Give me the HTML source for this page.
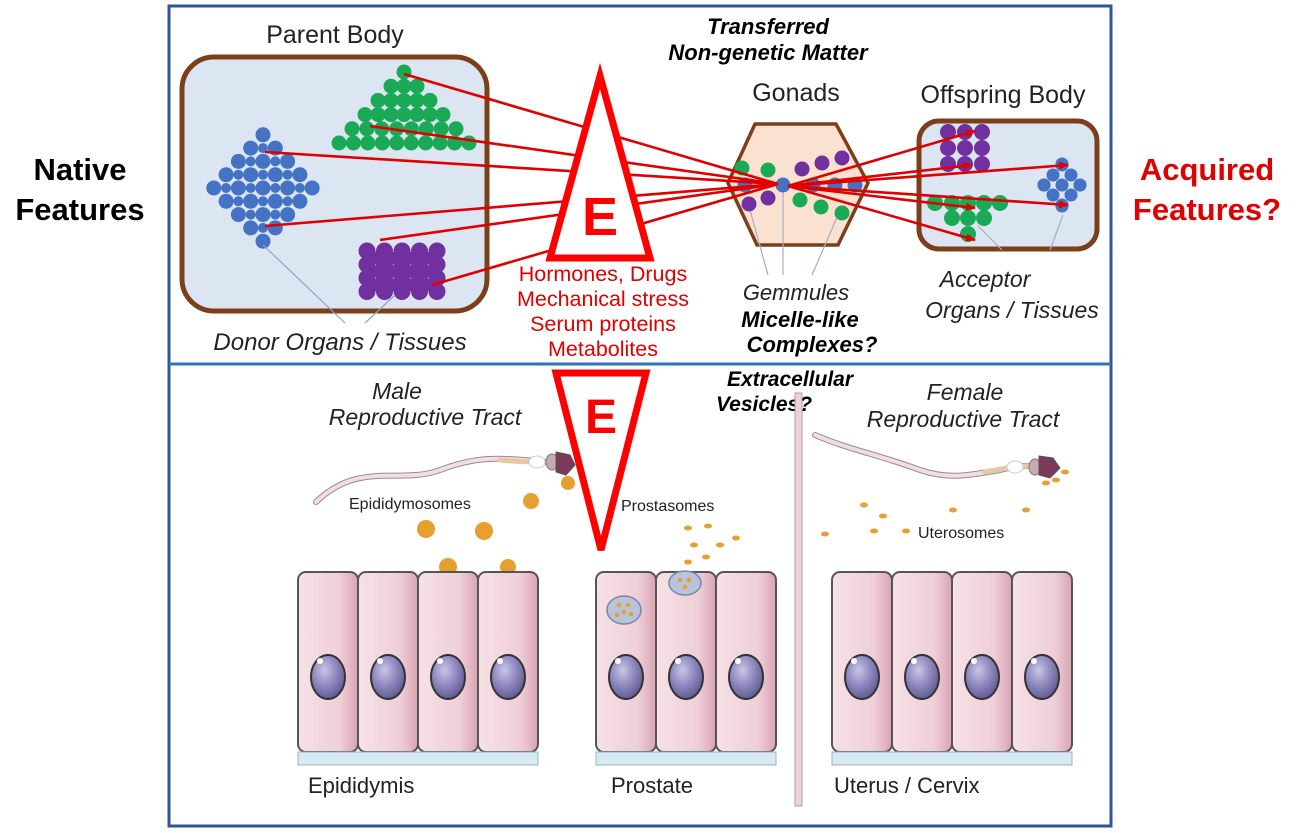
<!DOCTYPE html>
<html><head><meta charset="utf-8"><style>
html,body{margin:0;padding:0;background:#fff;}
svg{display:block;}
text{font-family:"Liberation Sans",Arial,sans-serif;}
</style></head><body>
<svg id="s" width="1301" height="833" viewBox="0 0 1301 833" xmlns="http://www.w3.org/2000/svg">
<defs>
<marker id="ah" markerWidth="10" markerHeight="8" refX="9" refY="4" orient="auto" markerUnits="userSpaceOnUse">
<path d="M0,0 L10,4 L0,8 z" fill="#e00000"/></marker>
<linearGradient id="cell" x1="0" x2="1"><stop offset="0" stop-color="#f6e2e6"/><stop offset="0.7" stop-color="#efcfd7"/><stop offset="1" stop-color="#d9a3b2"/></linearGradient>
<radialGradient id="nuc" cx="0.4" cy="0.35" r="0.7"><stop offset="0" stop-color="#c9c5e6"/><stop offset="0.5" stop-color="#8f89bf"/><stop offset="1" stop-color="#5d5790"/></radialGradient>
</defs>
<rect x="169" y="6" width="942" height="820" fill="none" stroke="#2f5597" stroke-width="3"/>
<line x1="169" y1="364" x2="1111" y2="364" stroke="#2e75b6" stroke-width="3"/>

<text x="80" y="180" font-size="31" font-weight="bold" text-anchor="middle">Native</text>
<text x="80" y="220" font-size="31" font-weight="bold" text-anchor="middle">Features</text>
<text x="1207" y="180" font-size="31" font-weight="bold" fill="#e00000" text-anchor="middle">Acquired</text>
<text x="1207" y="220" font-size="31" font-weight="bold" fill="#e00000" text-anchor="middle">Features?</text>

<text x="335" y="43" font-size="25" text-anchor="middle" fill="#222">Parent Body</text>
<rect x="182" y="57" width="305" height="254" rx="32" fill="#dce6f2" stroke="#7b3f1a" stroke-width="5"/>
<g id="parent"></g>
<line x1="263" y1="245" x2="345" y2="323" stroke="#8ea3c4" stroke-width="1.2"/>
<line x1="395" y1="295" x2="365" y2="323" stroke="#8ea3c4" stroke-width="1.2"/>
<text x="340" y="350" font-size="24" font-style="italic" text-anchor="middle" fill="#222">Donor Organs / Tissues</text>

<text x="768" y="34" font-size="22" font-weight="bold" font-style="italic" text-anchor="middle">Transferred</text>
<text x="768" y="60" font-size="22" font-weight="bold" font-style="italic" text-anchor="middle">Non-genetic Matter</text>
<text x="796" y="101" font-size="25" text-anchor="middle" fill="#222">Gonads</text>
<polygon points="728,183 755,124 836,124 868,183 838,245 757,245" fill="#fbe1cf" stroke="#7b3f1a" stroke-width="3.5"/>
<line x1="750" y1="210" x2="768" y2="275" stroke="#9fb0c8" stroke-width="1.2"/>
<line x1="783" y1="190" x2="783" y2="275" stroke="#9fb0c8" stroke-width="1.2"/>
<line x1="838" y1="215" x2="812" y2="275" stroke="#9fb0c8" stroke-width="1.2"/>
<g id="gon"></g>
<text x="796" y="300" font-size="22" font-style="italic" text-anchor="middle" fill="#222">Gemmules</text>
<text x="800" y="327" font-size="22" font-weight="bold" font-style="italic" text-anchor="middle">Micelle-like</text>
<text x="812" y="352" font-size="22" font-weight="bold" font-style="italic" text-anchor="middle">Complexes?</text>

<text x="1003" y="103" font-size="25" text-anchor="middle" fill="#222">Offspring Body</text>
<rect x="919" y="121" width="178" height="128" rx="20" fill="#dce6f2" stroke="#7b3f1a" stroke-width="5"/>
<g id="off"></g>
<line x1="978" y1="226" x2="1002" y2="250" stroke="#9fb0c8" stroke-width="1.2"/>
<line x1="1063" y1="215" x2="1050" y2="250" stroke="#9fb0c8" stroke-width="1.2"/>
<text x="985" y="287" font-size="23" font-style="italic" text-anchor="middle" fill="#222">Acceptor</text>
<text x="1012" y="318" font-size="23" font-style="italic" text-anchor="middle" fill="#222">Organs / Tissues</text>

<g id="lines" stroke="#e00000" stroke-width="2.6" fill="none"></g>

<polygon points="600,76 550,258 650,258" fill="#fff" stroke="#ff0000" stroke-width="7" stroke-linejoin="miter"/>
<text x="600" y="235" font-size="54" font-weight="bold" fill="#ff0000" text-anchor="middle">E</text>
<g fill="#e00000" font-size="21.5" text-anchor="middle">
<text x="603" y="281">Hormones,  Drugs</text>
<text x="603" y="306">Mechanical  stress</text>
<text x="603" y="331">Serum proteins</text>
<text x="603" y="356">Metabolites</text>
</g>

<polygon points="556,373 646,373 601,550" fill="#fff" stroke="#ff0000" stroke-width="7"/>
<text x="601" y="433" font-size="48" font-weight="bold" fill="#ff0000" text-anchor="middle">E</text>

<text x="397" y="399" font-size="23" font-style="italic" text-anchor="middle" fill="#222">Male</text>
<text x="425" y="425" font-size="23" font-style="italic" text-anchor="middle" fill="#222">Reproductive Tract</text>
<text x="790" y="386" font-size="21" font-weight="bold" font-style="italic" text-anchor="middle">Extracellular</text>
<text x="764" y="411" font-size="21" font-weight="bold" font-style="italic" text-anchor="middle">Vesicles?</text>
<text x="965" y="400" font-size="23" font-style="italic" text-anchor="middle" fill="#222">Female</text>
<text x="963" y="427" font-size="23" font-style="italic" text-anchor="middle" fill="#222">Reproductive Tract</text>
<rect x="795" y="393" width="7" height="413" fill="#ecd3d8" stroke="#b89aa2" stroke-width="1"/>

<g fill="none" stroke-linecap="round">
<path d="M316,502 C360,460 400,485 440,470 C480,455 500,458 548,462" stroke="#9a8a8f" stroke-width="6"/>
<path d="M316,502 C360,460 400,485 440,470 C480,455 500,458 548,462" stroke="#f2dde0" stroke-width="4"/>
<path d="M500,460 C520,462 535,462 548,462" stroke="#e8c7a4" stroke-width="5"/>
<path d="M815,435 C850,450 880,455 920,470 C950,480 970,475 1000,470 C1015,466 1025,466 1035,466" stroke="#9a8a8f" stroke-width="6"/>
<path d="M815,435 C850,450 880,455 920,470 C950,480 970,475 1000,470 C1015,466 1025,466 1035,466" stroke="#f2dde0" stroke-width="4"/>
<path d="M985,472 C1005,468 1020,466 1035,466" stroke="#e8c7a4" stroke-width="5"/>
</g>
<ellipse cx="537" cy="462" rx="8" ry="6" fill="#fff" stroke="#ccc"/>
<ellipse cx="1015" cy="467" rx="8" ry="6" fill="#fff" stroke="#ccc"/>
<ellipse cx="552" cy="462" rx="6" ry="8" fill="#c7a9b7" stroke="#777"/>
<polygon points="556,452 570,455 575,465 566,475 556,472" fill="#7b3a58" stroke="#555"/>
<ellipse cx="1035" cy="467" rx="6" ry="8" fill="#c7a9b7" stroke="#777"/>
<polygon points="1039,456 1053,458 1060,468 1050,478 1039,475" fill="#7b3a58" stroke="#555"/>

<g fill="#e5a030">
<circle cx="568" cy="483" r="7"/><circle cx="531" cy="501" r="8"/>
<circle cx="426" cy="529" r="9"/><circle cx="484" cy="531" r="9"/>
<circle cx="448" cy="567" r="9"/><circle cx="508" cy="567" r="8"/>
<ellipse cx="688" cy="528" rx="4" ry="2.5"/><ellipse cx="708" cy="526" rx="4" ry="2.5"/><ellipse cx="736" cy="538" rx="4" ry="2.5"/>
<ellipse cx="694" cy="545" rx="4" ry="2.5"/><ellipse cx="720" cy="545" rx="4" ry="2.5"/><ellipse cx="706" cy="557" rx="4" ry="2.5"/><ellipse cx="688" cy="562" rx="4" ry="2.5"/>
<ellipse cx="864" cy="505" rx="4" ry="2.5"/><ellipse cx="883" cy="516" rx="4" ry="2.5"/><ellipse cx="874" cy="531" rx="4" ry="2.5"/>
<ellipse cx="825" cy="534" rx="4" ry="2.5"/><ellipse cx="906" cy="531" rx="4" ry="2.5"/><ellipse cx="953" cy="510" rx="4" ry="2.5"/><ellipse cx="1026" cy="510" rx="4" ry="2.5"/>
<ellipse cx="1046" cy="483" rx="4" ry="2.5"/><ellipse cx="1056" cy="480" rx="4" ry="2.5"/><ellipse cx="1065" cy="472" rx="4" ry="2.5"/>
</g>
<text x="349" y="509" font-size="16" fill="#222">Epididymosomes</text>
<text x="621" y="511" font-size="16" fill="#222">Prostasomes</text>
<text x="918" y="538" font-size="16" fill="#222">Uterosomes</text>

<g id="cells"></g>
<g fill="#222" font-size="22">
<text x="308" y="793">Epididymis</text>
<text x="611" y="793">Prostate</text>
<text x="834" y="793">Uterus  /  Cervix</text>
</g>
</svg>
<script>
var NS="http://www.w3.org/2000/svg";
function el(p,t,a){var e=document.createElementNS(NS,t);for(var k in a)e.setAttribute(k,a[k]);document.getElementById(p).appendChild(e);return e;}
var G="#1aaa55",B="#4472c4",P="#7030a0";
for(var i=0;i<6;i++){var w=i*13;var y=72+i*14.2;
 if(i==0){el("parent","circle",{cx:404,cy:y,r:7.5,fill:G});continue;}
 var cnt=Math.round(2*w/14)+1;for(var j=0;j<cnt;j++){el("parent","circle",{cx:404-w+j*(2*w/(cnt-1)),cy:y,r:7.5,fill:G});}}
for(var a=-2;a<=2;a++)for(var b=-2;b<=2;b++){el("parent","circle",{cx:263+(a-b)*12.3,cy:188+(a+b)*13.3,r:7.5,fill:B});}
for(var a=-2;a<2;a++)for(var b=-2;b<2;b++){el("parent","circle",{cx:263+(a-b)*12.3,cy:188+(a+b+1)*13.3,r:5,fill:B});}
for(var r=0;r<4;r++)for(var c=0;c<5;c++)el("parent","circle",{cx:367+c*17.5,cy:251+r*13.5,r:8.5,fill:P});
for(var r=0;r<3;r++)for(var c=0;c<4;c++)el("parent","circle",{cx:375.5+c*17.5,cy:258+r*13.5,r:6,fill:P});
[[742,168,G],[768,170,G],[800,200,G],[821,207,G],[842,213,G]].forEach(function(d){el("gon","circle",{cx:d[0],cy:d[1],r:7.5,fill:d[2]});});
[[749,204,P],[768,198,P],[802,169,P],[822,163,P],[842,158,P]].forEach(function(d){el("gon","circle",{cx:d[0],cy:d[1],r:7.5,fill:d[2]});});
[745,783,813,835,855].forEach(function(x){el("gon","circle",{cx:x,cy:185,r:7.5,fill:B});});
for(var r=0;r<3;r++)for(var c=0;c<3;c++)el("off","circle",{cx:948+c*17,cy:132+r*16,r:8,fill:P});
[[935,203],[952,203],[968,203],[984,203],[1000,203],[952,218],[968,218],[984,218],[968,234]].forEach(function(d){el("off","circle",{cx:d[0],cy:d[1],r:8,fill:G});});
for(var a=-1;a<=1;a++)for(var b=-1;b<=1;b++)el("off","circle",{cx:1062+(a-b)*9,cy:185+(a+b)*10,r:6.5,fill:B});
[[1062,164],[1062,206],[1044,185],[1080,185]].forEach(function(d){el("off","circle",{cx:d[0],cy:d[1],r:6.5,fill:B});});
[[404,74],[370,126],[265,152],[265,226],[380,240],[432,285]].forEach(function(s){el("lines","line",{x1:s[0],y1:s[1],x2:778,y2:184});});
[[975,131],[972,165],[1068,165],[1068,205],[975,208],[975,240]].forEach(function(t){el("lines","line",{x1:788,y1:186,x2:t[0],y2:t[1],"marker-end":"url(#ah)"});});
function grp(x0,n){for(var i=0;i<n;i++){var x=x0+i*60;
 el("cells","rect",{x:x,y:572,width:60,height:180,rx:8,fill:"url(#cell)",stroke:"#555","stroke-width":2});
 el("cells","ellipse",{cx:x+30,cy:677,rx:17,ry:22,fill:"url(#nuc)",stroke:"#333","stroke-width":2});
 el("cells","circle",{cx:x+22,cy:661,r:3,fill:"#fff"});}
 el("cells","rect",{x:x0,y:752,width:n*60,height:13,fill:"#d6eaf5",stroke:"#9db3c2","stroke-width":1});}
grp(298,4);grp(596,3);grp(832,4);
el("cells","ellipse",{cx:624,cy:610,rx:17,ry:14,fill:"#b8c4dc",stroke:"#7788aa","stroke-width":1.5});
el("cells","ellipse",{cx:685,cy:583,rx:16,ry:12,fill:"#b8c4dc",stroke:"#7788aa","stroke-width":1.5});
[[619,605],[628,605],[624,612],[617,615],[631,614],[680,580],[689,580],[685,587]].forEach(function(d){el("cells","circle",{cx:d[0],cy:d[1],r:2.3,fill:"#e5a030"});});
</script>
</body></html>
